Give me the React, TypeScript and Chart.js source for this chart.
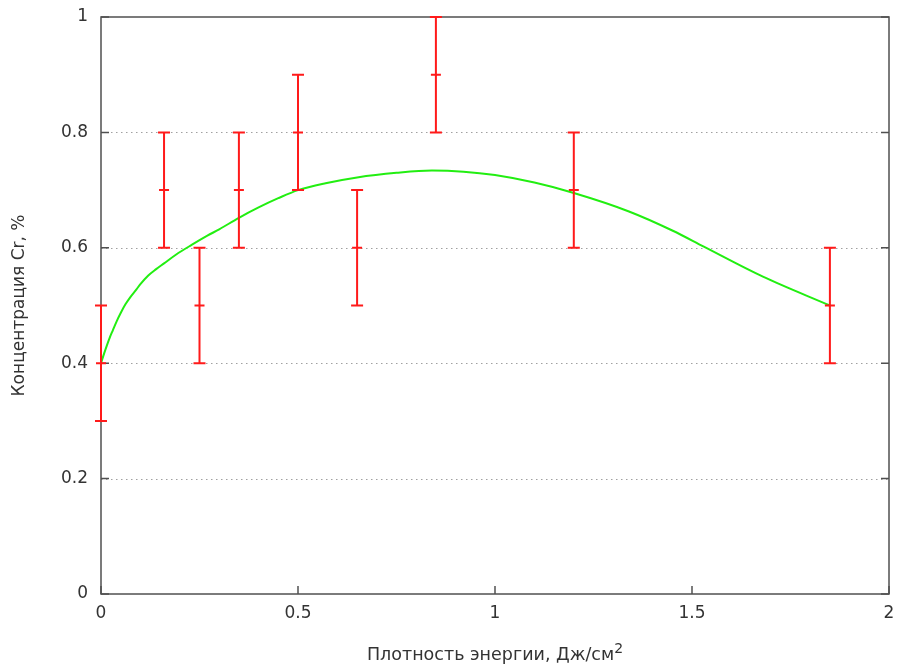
import React, { useEffect, useRef } from "react";
import { Chart, registerables } from "chart.js";

Chart.register(...registerables);

const pointX = [0, 0.16, 0.25, 0.35, 0.5, 0.65, 0.85, 1.2, 1.85];
const pointY = [0.4, 0.7, 0.5, 0.7, 0.8, 0.6, 0.9, 0.7, 0.5];
const errLow = [0.3, 0.6, 0.4, 0.6, 0.7, 0.5, 0.8, 0.6, 0.4];
const errHigh = [0.5, 0.8, 0.6, 0.8, 0.9, 0.7, 1.0, 0.8, 0.6];

const curveX = [0, 0.008, 0.015, 0.022, 0.03, 0.04, 0.05, 0.062, 0.075, 0.09, 0.1, 0.12, 0.14, 0.16, 0.19, 0.23, 0.27, 0.3, 0.35, 0.4, 0.45, 0.5, 0.57, 0.65, 0.75, 0.84, 0.92, 1.0, 1.1, 1.2, 1.34, 1.45, 1.53, 1.68, 1.85];
const curveY = [0.4, 0.417, 0.431, 0.444, 0.457, 0.473, 0.487, 0.502, 0.515, 0.528, 0.537, 0.552, 0.563, 0.573, 0.588, 0.605, 0.621, 0.632, 0.652, 0.670, 0.686, 0.700, 0.712, 0.722, 0.730, 0.734, 0.732, 0.726, 0.713, 0.695, 0.663, 0.630, 0.602, 0.550, 0.5];

const xTicks = [0, 0.5, 1, 1.5, 2];
const yTicks = [0, 0.2, 0.4, 0.6, 0.8, 1];

const xTitleMain = "Плотность энергии, Дж/см";
const xTitleSup = "2";
const yTitle = "Концентрация Cr, %";

const FONT = "'DejaVu Sans', sans-serif";
const FS = 17;
const TEXT = "#333333";

const framePlugin = {
  id: "frameErr",
  beforeDatasetsDraw(chart: any) {
    const { ctx, chartArea: a, scales } = chart;
    const ys = scales.y;
    const xs = scales.x;
    ctx.save();
    ctx.strokeStyle = "#a0a0a0";
    ctx.lineWidth = 1;
    ctx.setLineDash([1.5, 3.5]);
    for (const t of yTicks) {
      if (t === 0 || t === 1) continue;
      const py = Math.round(ys.getPixelForValue(t)) + 0.5;
      ctx.beginPath();
      ctx.moveTo(a.left, py);
      ctx.lineTo(a.right, py);
      ctx.stroke();
    }
    ctx.setLineDash([]);
    ctx.strokeStyle = "#505050";
    ctx.lineWidth = 1.5;
    ctx.strokeRect(a.left, a.top, a.right - a.left, a.bottom - a.top);
    for (const t of yTicks) {
      const py = ys.getPixelForValue(t);
      ctx.beginPath();
      ctx.moveTo(a.left, py);
      ctx.lineTo(a.left + 8, py);
      ctx.moveTo(a.right, py);
      ctx.lineTo(a.right - 8, py);
      ctx.stroke();
    }
    for (const t of xTicks) {
      const px = xs.getPixelForValue(t);
      ctx.beginPath();
      ctx.moveTo(px, a.bottom);
      ctx.lineTo(px, a.bottom - 8);
      ctx.stroke();
    }
    ctx.restore();
  },
  afterDatasetsDraw(chart: any) {
    const { ctx, scales } = chart;
    const ys = scales.y;
    const xs = scales.x;
    ctx.save();
    ctx.strokeStyle = "#ff1a1a";
    ctx.lineWidth = 2;
    for (let i = 0; i < pointX.length; i++) {
      const px = xs.getPixelForValue(pointX[i]);
      const pl = ys.getPixelForValue(errLow[i]);
      const ph = ys.getPixelForValue(errHigh[i]);
      const pc = ys.getPixelForValue(pointY[i]);
      ctx.beginPath();
      ctx.moveTo(px, pl);
      ctx.lineTo(px, ph);
      ctx.moveTo(px - 6, pl);
      ctx.lineTo(px + 6, pl);
      ctx.moveTo(px - 6, ph);
      ctx.lineTo(px + 6, ph);
      ctx.moveTo(px - 5, pc);
      ctx.lineTo(px + 5, pc);
      ctx.stroke();
    }
    ctx.restore();
  },
  afterDraw(chart: any) {
    const { ctx, chartArea: a } = chart;
    ctx.save();
    ctx.fillStyle = TEXT;
    const TS = 17.5;
    ctx.font = `${TS}px ${FONT}`;
    const mainW = ctx.measureText(xTitleMain).width;
    ctx.font = `${Math.round(TS * 0.8)}px ${FONT}`;
    const supW = ctx.measureText(xTitleSup).width;
    const total = mainW + supW;
    const cx = (a.left + a.right) / 2;
    const baseY = 660;
    const startX = cx - total / 2;
    ctx.textBaseline = "alphabetic";
    ctx.textAlign = "left";
    ctx.font = `${TS}px ${FONT}`;
    ctx.fillText(xTitleMain, startX, baseY);
    ctx.font = `${Math.round(TS * 0.8)}px ${FONT}`;
    ctx.fillText(xTitleSup, startX + mainW, baseY - 7);
    ctx.font = `${FS}px ${FONT}`;
    ctx.translate(20, (a.top + a.bottom) / 2);
    ctx.rotate(-Math.PI / 2);
    ctx.textAlign = "center";
    ctx.textBaseline = "middle";
    ctx.fillText(yTitle, 0, 0);
    ctx.restore();
  },
};

export default function App() {
  const ref = useRef<HTMLCanvasElement | null>(null);
  useEffect(() => {
    document.body.style.margin = "0";
    const canvas = ref.current;
    if (!canvas) return;
    const chart = new Chart(canvas, {
      type: "scatter",
      data: {
        datasets: [
          {
            label: "fit",
            data: curveX.map((x, i) => ({ x, y: curveY[i] })),
            showLine: true,
            borderColor: "#22ee11",
            borderWidth: 2,
            pointRadius: 0,
            cubicInterpolationMode: "monotone",
          } as any,
        ],
      },
      options: {
        responsive: false,
        animation: false,
        layout: { padding: { left: 0, right: 9, top: 17, bottom: 0 } },
        plugins: { legend: { display: false }, tooltip: { enabled: false } },
        scales: {
          x: {
            type: "linear",
            min: 0,
            max: 2,
            afterBuildTicks: (s: any) => {
              s.ticks = xTicks.map((v) => ({ value: v }));
            },
            afterFit: (s: any) => {
              s.height = 72;
              s.paddingLeft = 0;
              s.paddingRight = 0;
            },
            grid: { display: false, drawTicks: false },
            border: { display: false },
            ticks: {
              color: TEXT,
              font: { family: FONT, size: FS },
              padding: 9,
              callback: (v: any) => String(v),
            },
          },
          y: {
            type: "linear",
            min: 0,
            max: 1,
            afterBuildTicks: (s: any) => {
              s.ticks = yTicks.map((v) => ({ value: v }));
            },
            afterFit: (s: any) => {
              s.width = 101;
              s.paddingTop = 0;
              s.paddingBottom = 0;
            },
            grid: { display: false, drawTicks: false },
            border: { display: false },
            ticks: {
              color: TEXT,
              font: { family: FONT, size: FS },
              padding: 13,
              callback: (v: any) => String(v),
            },
          },
        },
      },
      plugins: [framePlugin],
    });
    return () => chart.destroy();
  }, []);
  return (
    <div style={{ width: 898, height: 666, background: "#fff" }}>
      <canvas ref={ref} width={898} height={666} style={{ display: "block" }} />
    </div>
  );
}
